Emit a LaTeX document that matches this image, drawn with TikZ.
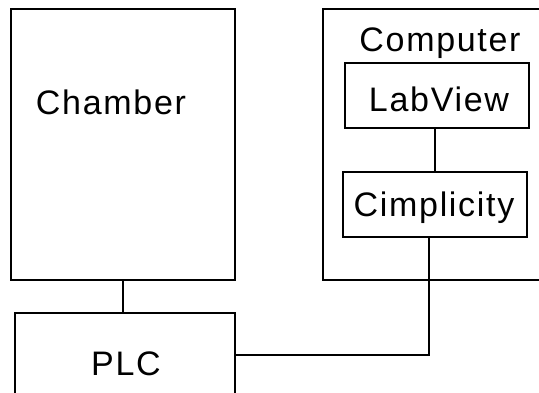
\documentclass[tikz,border=0pt]{standalone}
\usepackage{fontspec}
\setmainfont{Liberation Sans}[LetterSpace=5]
\begin{document}
\begin{tikzpicture}[x=1pt,y=-1pt,
  box/.style={draw,line width=2pt,rectangle,inner sep=0pt},
  lbl/.style={anchor=base,inner sep=0pt,font=\fontsize{34}{40}\selectfont},
  wire/.style={line width=2pt}]
\useasboundingbox (0,0) rectangle (539,393);
\clip (0,0) rectangle (539,393);
\node[box,minimum width=224pt,minimum height=271pt] (chamber) at (123,144.5) {};
\node[box,minimum width=220pt,minimum height=107pt] (plc) at (125,366.5) {};
\node[box,minimum width=237pt,minimum height=271pt] (computer) at (441.5,144.5) {};
\node[box,minimum width=184pt,minimum height=65pt] (labview) at (437,95.5) {};
\node[box,minimum width=184pt,minimum height=65pt] (cimp) at (435,204.5) {};
\node[lbl] (tchamber) at (111,115) {Chamber};
\node[lbl] (tcomputer) at (440,52) {Computer};
\node[lbl] (tlabview) at (439,112) {LabView};
\node[lbl] (tcimp) at (434,217) {Cimplicity};
\node[lbl] (tplc) at (126,375) {PLC};
\draw[wire] (chamber.south) -- (chamber.south |- plc.north);
\draw[wire] (cimp.north) -- (cimp.north |- labview.south);
\coordinate (cdrop) at ([xshift=-6pt]cimp.south);
\draw[wire] (cdrop) |- ([yshift=12pt]plc.east);
\end{tikzpicture}
\end{document}
